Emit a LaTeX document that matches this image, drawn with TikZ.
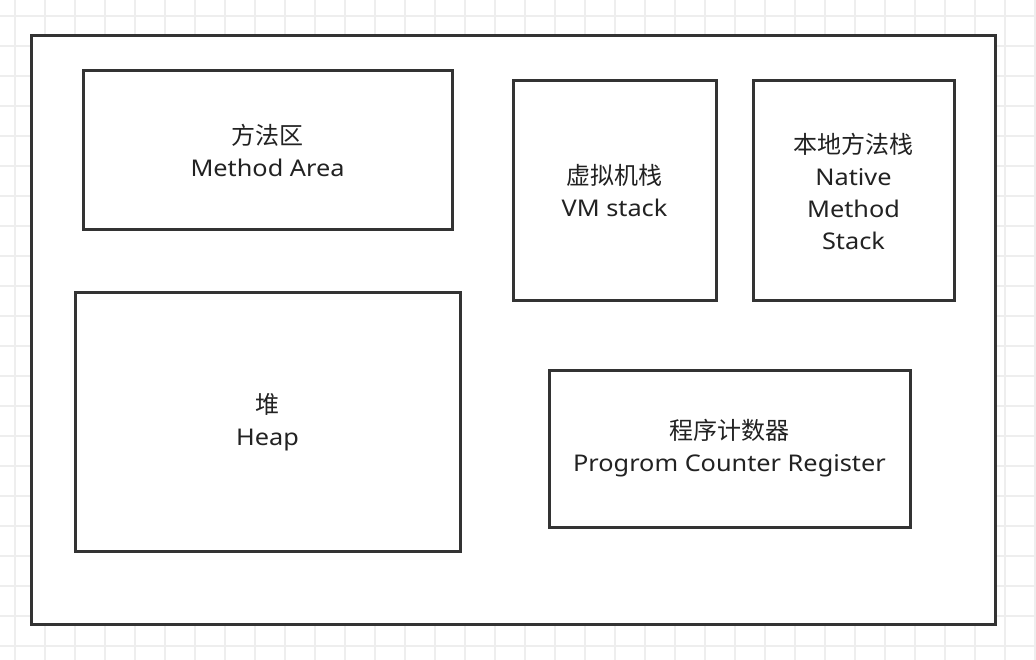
\documentclass[tikz,border=0pt]{standalone}
\usepackage{fontspec}
\setmainfont{Noto Sans}[FakeStretch=1.1]
\newfontfamily\cjk{Noto Sans CJK SC}
\definecolor{boxc}{RGB}{51,51,51}
\definecolor{gridc}{RGB}{238,238,238}
\definecolor{txtc}{RGB}{34,34,34}
\begin{document}
\begin{tikzpicture}[x=1pt,y=-1pt,
  box/.style={draw=boxc, line width=3pt, fill=white, align=center, inner sep=0pt,
    font=\fontsize{23}{32}\selectfont, text=txtc},
  gridline/.style={draw=gridc, line width=1.5pt}]
\useasboundingbox (0,0) rectangle (1036,660);
\fill[white] (0,0) rectangle (1036,660);
\foreach \x in {15,45,...,1035} \draw[gridline] (\x,0) -- (\x,660);
\foreach \y in {16,46,...,646} \draw[gridline] (0,\y) -- (1036,\y);
\node[box, minimum width=964pt, minimum height=588pt] (outer) at (513,330) {};
\node[box, minimum width=369pt, minimum height=159pt] (method) at (267.5,150.5) {{\cjk\fontsize{24}{32}\selectfont 方法区}\\Method Area};
\node[box, minimum width=203pt, minimum height=220pt] (vm) at (614.5,191) {{\cjk\fontsize{24}{32}\selectfont 虚拟机栈}\\VM stack};
\node[box, minimum width=201pt, minimum height=220pt] (native) at (853.5,191) {{\cjk\fontsize{24}{32}\selectfont 本地方法栈}\\Native\\Method\\Stack};
\node[box, minimum width=385pt, minimum height=258pt] (heap) at (267.5,422) {{\cjk\fontsize{24}{32}\selectfont 堆}\\Heap};
\node[box, minimum width=361pt, minimum height=157pt] (pc) at (729.5,448.5) {{\cjk\fontsize{24}{32}\selectfont 程序计数器}\\Progrom Counter Register};
\end{tikzpicture}
\end{document}
